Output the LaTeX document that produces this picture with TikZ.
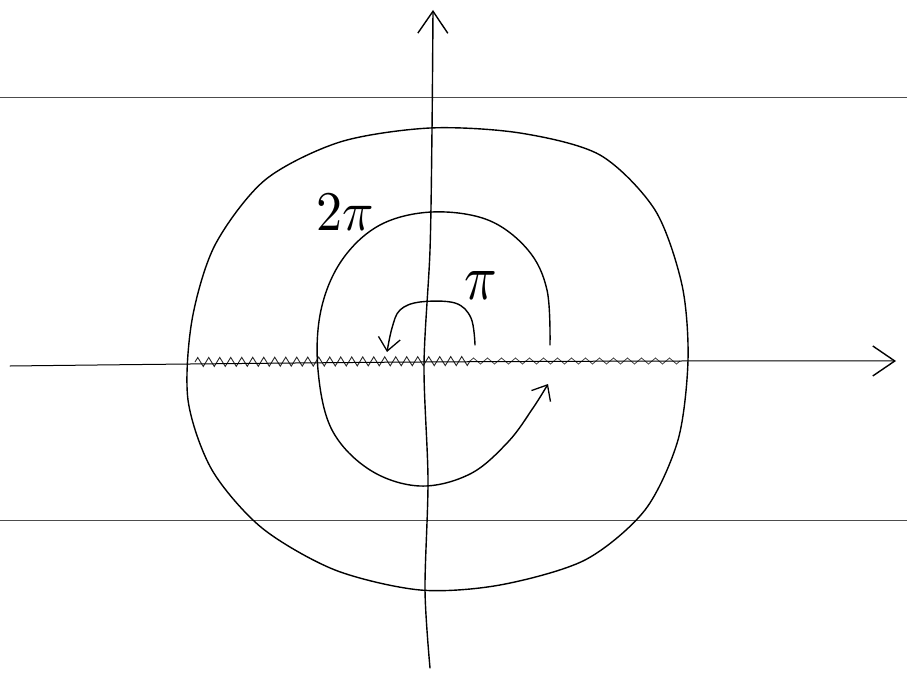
\documentclass[tikz,border=0pt]{standalone}
\usetikzlibrary{arrows.meta,decorations.pathmorphing}
\begin{document}
\begin{tikzpicture}[x=1pt,y=-1pt,
  ink/.style={line width=1.4pt,black,line cap=round,line join=round},
  rule/.style={line width=0.6pt,black!70},
  barb/.style={-{Straight Barb[length=13pt,width=22pt,line width=1.3pt]}},
  bigbarb/.style={-{Straight Barb[length=22pt,width=30pt,line width=1.4pt]}},
  cut/.style={line width=0.9pt,black!85,decorate,decoration={zigzag,segment length=11pt,amplitude=4.5pt}},
  cutb/.style={line width=0.8pt,black!75,decorate,decoration={zigzag,segment length=14pt,amplitude=3pt}},
  lbl/.style={inner sep=0pt}]
\useasboundingbox (0,0) rectangle (907,698);
\fill[white] (0,0) rectangle (907,698);
% ruled lines
\coordinate (r1l) at (0,97); \coordinate (r1r) at (907,97);
\coordinate (r2l) at (0,520); \coordinate (r2r) at (907,520);
\draw[rule] (r1l) -- (r1r);
\draw[rule] (r2l) -- (r2r);
% branch cut
\coordinate (cs) at (195,362); \coordinate (cm) at (470,361); \coordinate (ce) at (680,361);
\draw[cut] (cs) -- (cm);
\draw[cutb] (cm) -- (ce);
% horizontal axis
\draw[ink,line width=1pt,bigbarb] plot[smooth] coordinates {(10,366) (190,364) (420,362) (680,361) (896,361)};
% vertical axis
\draw[ink,bigbarb] plot[smooth] coordinates {(430,668) (425,590) (428,480) (424,365) (430,250) (432,130) (433,10)};
% outer curve
\draw[ink] plot[smooth cycle] coordinates {(430,128) (520,133) (600,155) (655,210) (682,285) (688,360) (678,440) (645,510) (585,560) (500,585) (420,590) (335,570) (262,528) (212,470) (188,400) (192,320) (215,245) (265,180) (340,142)};
% 2pi spiral
\draw[ink,barb] plot[smooth,tension=0.6] coordinates {(550,345) (547,290) (528,250) (488,220) (432,212) (380,225) (342,260) (321,310) (318,370) (332,430) (370,470) (420,486) (470,474) (508,442) (533,408) (548,384)};
% pi loop
\draw[ink,barb] plot[smooth,tension=0.6] coordinates {(475,345) (471,318) (455,303) (420,302) (400,310) (392,328) (387,352)};
% labels
\node[lbl] (twopi) at (345,212) {\scalebox{5.2}[5.6]{$2\pi$}};
\node[lbl] (pi) at (481,286) {\scalebox{5.4}[6.5]{$\pi$}};
\end{tikzpicture}
\end{document}
